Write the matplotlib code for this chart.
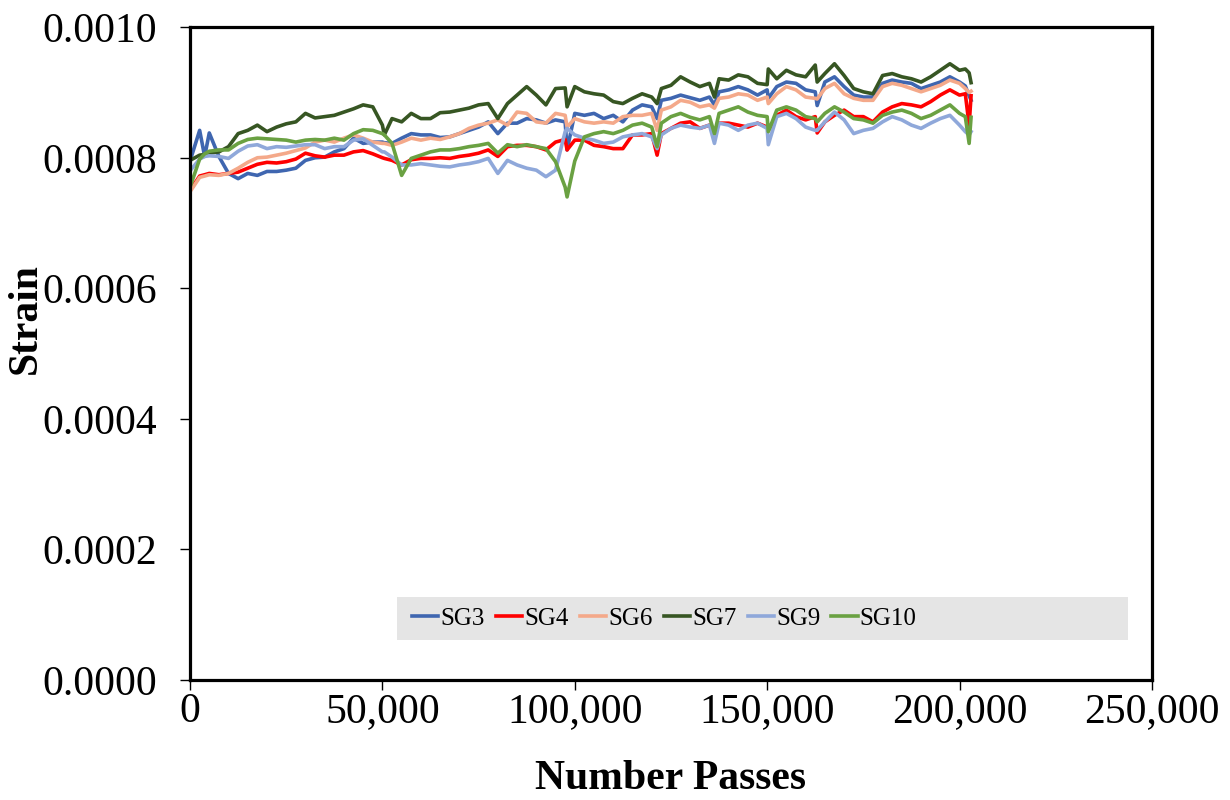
import numpy as np
import matplotlib
matplotlib.use("Agg")
import matplotlib.pyplot as plt
from matplotlib import ticker
from matplotlib.patches import Rectangle

plt.rcParams['font.family'] = ['Liberation Serif', 'DejaVu Serif']

# number of passes (shared by all gauges)
passes = [0, 2500, 3800, 5000, 7500, 10000, 12500, 15000, 17500, 20000, 22500,
          25000, 27500, 30000, 32500, 35000, 37500, 40000, 42500, 45000, 47500,
          50000, 50500, 52500, 55000, 57500, 60000, 62500, 65000, 67500, 70000,
          72500, 75000, 77500, 80000, 82500, 85000, 87500, 90000, 92500, 95000,
          97500, 98000, 100000, 102500, 105000, 107500, 110000, 112500, 115000, 117500,
          120000, 121400, 122500, 125000, 127500, 130000, 132500, 135000, 136300, 137500,
          140000, 142500, 145000, 147500, 150000, 150300, 152500, 155000, 157500, 160000,
          162500, 163000, 165000, 167500, 170000, 172500, 175000, 177500, 180000, 182500,
          185000, 187500, 190000, 192500, 195000, 197500, 200000, 201500, 202500, 203000]

# strain readings, x 1e-4
sg3 = [7.95, 8.42, 8.02, 8.38, 8.02, 7.76, 7.68, 7.76, 7.73, 7.79, 7.79,
       7.81, 7.84, 7.96, 8.00, 8.01, 8.09, 8.14, 8.30, 8.22, 8.24,
       8.24, 8.23, 8.22, 8.30, 8.37, 8.35, 8.35, 8.31, 8.32, 8.37,
       8.42, 8.47, 8.55, 8.37, 8.53, 8.53, 8.60, 8.58, 8.53, 8.58,
       8.55, 8.12, 8.68, 8.65, 8.68, 8.60, 8.65, 8.55, 8.73, 8.81,
       8.78, 8.60, 8.88, 8.91, 8.96, 8.92, 8.88, 8.93, 8.81, 9.01,
       9.04, 9.09, 9.04, 8.96, 9.04, 8.91, 9.09, 9.16, 9.14, 9.04,
       9.01, 8.80, 9.16, 9.24, 9.09, 8.96, 8.93, 8.93, 9.14, 9.19,
       9.16, 9.14, 9.06, 9.11, 9.16, 9.24, 9.16, 9.10, 8.95, 8.88]
sg4 = [7.50, 7.72, 7.74, 7.76, 7.74, 7.76, 7.78, 7.84, 7.90, 7.93, 7.92,
       7.94, 7.98, 8.07, 8.03, 8.01, 8.04, 8.04, 8.09, 8.11, 8.06,
       8.00, 7.99, 7.96, 7.89, 7.97, 7.99, 7.99, 8.00, 7.99, 8.02,
       8.04, 8.07, 8.12, 8.02, 8.17, 8.19, 8.19, 8.17, 8.12, 8.24,
       8.28, 8.12, 8.27, 8.27, 8.19, 8.17, 8.14, 8.14, 8.35, 8.35,
       8.37, 8.04, 8.37, 8.45, 8.53, 8.55, 8.45, 8.50, 8.40, 8.53,
       8.53, 8.50, 8.47, 8.53, 8.47, 8.42, 8.65, 8.73, 8.63, 8.58,
       8.63, 8.38, 8.55, 8.65, 8.73, 8.63, 8.63, 8.55, 8.70, 8.78,
       8.83, 8.81, 8.78, 8.86, 8.96, 9.04, 8.96, 8.98, 8.50, 8.95]
sg6 = [7.48, 7.70, 7.72, 7.74, 7.73, 7.76, 7.84, 7.93, 8.00, 8.01, 8.04,
       8.07, 8.11, 8.15, 8.24, 8.27, 8.24, 8.30, 8.35, 8.30, 8.24,
       8.22, 8.22, 8.19, 8.24, 8.30, 8.27, 8.30, 8.28, 8.32, 8.37,
       8.45, 8.50, 8.53, 8.58, 8.50, 8.70, 8.68, 8.55, 8.53, 8.68,
       8.65, 8.47, 8.60, 8.55, 8.53, 8.55, 8.53, 8.63, 8.65, 8.65,
       8.68, 8.42, 8.73, 8.78, 8.88, 8.85, 8.78, 8.81, 8.76, 8.91,
       8.93, 8.98, 8.96, 8.88, 8.93, 8.83, 8.98, 9.09, 9.04, 8.93,
       8.91, 8.90, 9.06, 9.14, 8.98, 8.91, 8.88, 8.88, 9.09, 9.14,
       9.11, 9.06, 9.01, 9.06, 9.11, 9.19, 9.14, 9.06, 9.00, 9.02]
sg7 = [7.96, 8.04, 8.05, 8.07, 8.09, 8.17, 8.37, 8.42, 8.50, 8.40, 8.47,
       8.52, 8.55, 8.68, 8.61, 8.63, 8.65, 8.70, 8.75, 8.81, 8.78,
       8.50, 8.35, 8.60, 8.55, 8.68, 8.60, 8.60, 8.69, 8.70, 8.73,
       8.76, 8.81, 8.83, 8.60, 8.83, 8.96, 9.09, 8.96, 8.81, 9.06,
       9.07, 8.78, 9.09, 9.01, 8.98, 8.96, 8.86, 8.83, 8.91, 8.98,
       8.93, 8.83, 9.06, 9.11, 9.24, 9.16, 9.09, 9.14, 8.93, 9.21,
       9.19, 9.27, 9.24, 9.14, 9.12, 9.36, 9.21, 9.34, 9.27, 9.24,
       9.42, 9.16, 9.29, 9.44, 9.26, 9.06, 9.01, 8.98, 9.26, 9.29,
       9.24, 9.21, 9.16, 9.24, 9.34, 9.44, 9.34, 9.36, 9.30, 9.15]
sg9 = [7.80, 7.98, 8.02, 8.03, 8.02, 7.99, 8.10, 8.18, 8.20, 8.14, 8.17,
       8.16, 8.18, 8.20, 8.20, 8.14, 8.17, 8.17, 8.27, 8.29, 8.19,
       8.09, 8.09, 8.01, 7.89, 7.89, 7.91, 7.89, 7.87, 7.86, 7.89,
       7.91, 7.94, 7.99, 7.76, 7.96, 7.89, 7.84, 7.81, 7.71, 7.81,
       8.40, 8.45, 8.35, 8.30, 8.27, 8.22, 8.24, 8.32, 8.35, 8.37,
       8.32, 8.14, 8.35, 8.45, 8.50, 8.47, 8.45, 8.50, 8.22, 8.53,
       8.50, 8.42, 8.50, 8.53, 8.45, 8.20, 8.63, 8.68, 8.60, 8.47,
       8.42, 8.42, 8.55, 8.70, 8.58, 8.37, 8.42, 8.45, 8.55, 8.63,
       8.58, 8.50, 8.45, 8.53, 8.60, 8.65, 8.50, 8.40, 8.35, 8.40]
sg10 = [7.55, 7.98, 8.06, 8.10, 8.12, 8.12, 8.22, 8.28, 8.30, 8.29, 8.28,
        8.27, 8.24, 8.27, 8.28, 8.27, 8.30, 8.27, 8.37, 8.43, 8.42,
        8.37, 8.35, 8.22, 7.73, 7.99, 8.04, 8.09, 8.12, 8.12, 8.14,
        8.17, 8.19, 8.22, 8.07, 8.20, 8.17, 8.20, 8.17, 8.14, 7.94,
        7.55, 7.40, 7.95, 8.32, 8.37, 8.40, 8.37, 8.42, 8.50, 8.53,
        8.47, 8.17, 8.53, 8.63, 8.68, 8.62, 8.58, 8.63, 8.37, 8.68,
        8.73, 8.78, 8.70, 8.65, 8.63, 8.40, 8.73, 8.78, 8.73, 8.63,
        8.60, 8.55, 8.68, 8.78, 8.70, 8.60, 8.58, 8.53, 8.65, 8.70,
        8.73, 8.68, 8.60, 8.65, 8.73, 8.81, 8.68, 8.63, 8.22, 8.62]

names = ['SG3', 'SG4', 'SG6', 'SG7', 'SG9', 'SG10']
colors = ['#3F66B0', '#FF0000', '#F4A98A', '#375623', '#8FA8DA', '#6AA142']
series = [sg3, sg4, sg6, sg7, sg9, sg10]

fig = plt.figure(figsize=(12.3, 8.0), dpi=100)
ax = fig.add_axes([0.1545, 0.15, 0.782, 0.816])

for name, col, vals in zip(names, colors, series):
    ax.plot(passes, np.array(vals) * 1e-4, color=col, lw=2.6, label=name)

ax.set_xlim(0, 250000)
ax.set_ylim(0, 0.001)
ax.xaxis.set_major_locator(ticker.MultipleLocator(50000))
ax.yaxis.set_major_locator(ticker.MultipleLocator(0.0002))
ax.xaxis.set_major_formatter(ticker.FuncFormatter(lambda v, p: '{:,.0f}'.format(v)))
ax.yaxis.set_major_formatter(ticker.FormatStrFormatter('%.4f'))
ax.tick_params(axis='both', labelsize=30, length=7, width=1, direction='out')
ax.tick_params(axis='x', pad=2)
ax.tick_params(axis='y', pad=17)

for s in ax.spines.values():
    s.set_linewidth(2.3)
    s.set_color('black')

ax.set_xlabel('Number Passes', fontsize=30, fontweight='bold')
ax.set_ylabel('Strain', fontsize=30, fontweight='bold')
ax.xaxis.set_label_coords(0.5, -0.122)
ax.yaxis.set_label_coords(-0.151, 0.554)

# grey legend band
ax.add_patch(Rectangle((0.2152, 0.061), 0.76, 0.066, transform=ax.transAxes,
                       facecolor='#e5e5e5', edgecolor='none', zorder=4))
leg = ax.legend(loc='center left', bbox_to_anchor=(0.231, 0.0942), ncol=6, fontsize=18,
                frameon=False, handlelength=1.05, handletextpad=0.08, columnspacing=0.45,
                borderpad=0, borderaxespad=0)
leg.set_zorder(5)

fig.savefig('out.png', dpi=100)
